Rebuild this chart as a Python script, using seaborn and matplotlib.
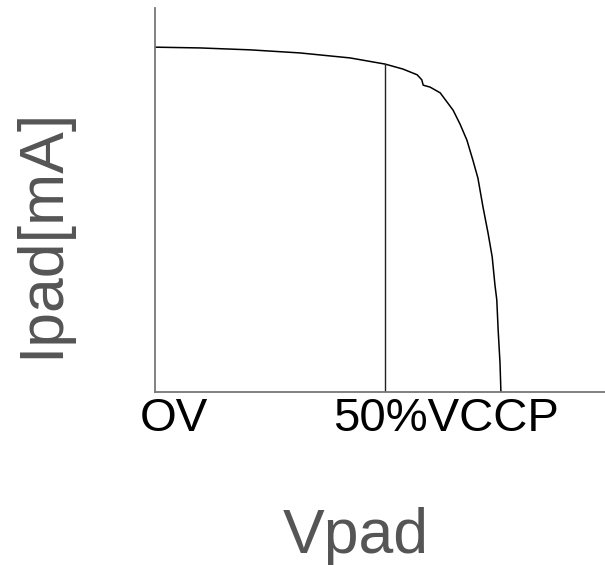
import matplotlib
matplotlib.use("Agg")
import matplotlib.pyplot as plt
import seaborn as sns
import pandas as pd

# Data (x as fraction of VCCP, y as arbitrary current units)
vpad = [0.000, 0.098, 0.207, 0.315, 0.424, 0.500, 0.539, 0.570, 0.580, 0.583,
        0.598, 0.620, 0.648, 0.663, 0.678, 0.691, 0.702, 0.713, 0.724, 0.733,
        0.739, 0.743, 0.746, 0.750, 0.752]
ipad = [89.8, 89.6, 89.1, 88.3, 87.0, 85.4, 84.1, 82.6, 81.3, 79.9,
        79.4, 77.9, 73.4, 69.8, 65.6, 60.4, 55.7, 48.2, 41.4, 35.2,
        27.9, 24.0, 16.1, 7.6, 0.0]
marker_x = [0.5, 0.5]
marker_y = [0.0, 85.4]
tick_labels = ["OV", "50%VCCP"]
x_label = "Vpad"
y_label = "Ipad[mA]"

sns.set_style("white")
plt.rcParams['font.family'] = ['Liberation Sans', 'DejaVu Sans']

W, H = 605, 565
fig = plt.figure(figsize=(W / 100, H / 100), dpi=100)
ax = fig.add_axes([155 / W, (H - 392) / H, (W - 155) / W, (392 - 8) / H])

df = pd.DataFrame({"vpad": vpad, "ipad": ipad})
sns.lineplot(data=df, x="vpad", y="ipad", sort=False, estimator=None,
             color="black", lw=1.1, ax=ax)
mdf = pd.DataFrame({"x": marker_x, "y": marker_y})
sns.lineplot(data=mdf, x="x", y="y", sort=False, estimator=None,
             color="#222222", lw=1.0, ax=ax)

ax.set_xlim(0, 450 / 460)
ax.set_ylim(0, 100)
ax.set_xticks([])
ax.set_yticks([])
ax.set_xlabel("")
ax.set_ylabel("")
for s in ["top", "right"]:
    ax.spines[s].set_visible(False)
for s in ["left", "bottom"]:
    ax.spines[s].set_color("#777777")
    ax.spines[s].set_linewidth(1.3)

fig.text(140 / W, (H - 431) / H, tick_labels[0], fontsize=34, color="black",
         ha="left", va="baseline")
fig.text(333 / W, (H - 431) / H, tick_labels[1], fontsize=34, color="black",
         ha="left", va="baseline")
fig.text(356 / W, (H - 553) / H, x_label, fontsize=45, color="#555555",
         ha="center", va="baseline")
fig.text(42 / W, (H - 233) / H, y_label, fontsize=45, color="#555555",
         ha="center", va="center", rotation=90)

fig.savefig("out.png", dpi=100)
